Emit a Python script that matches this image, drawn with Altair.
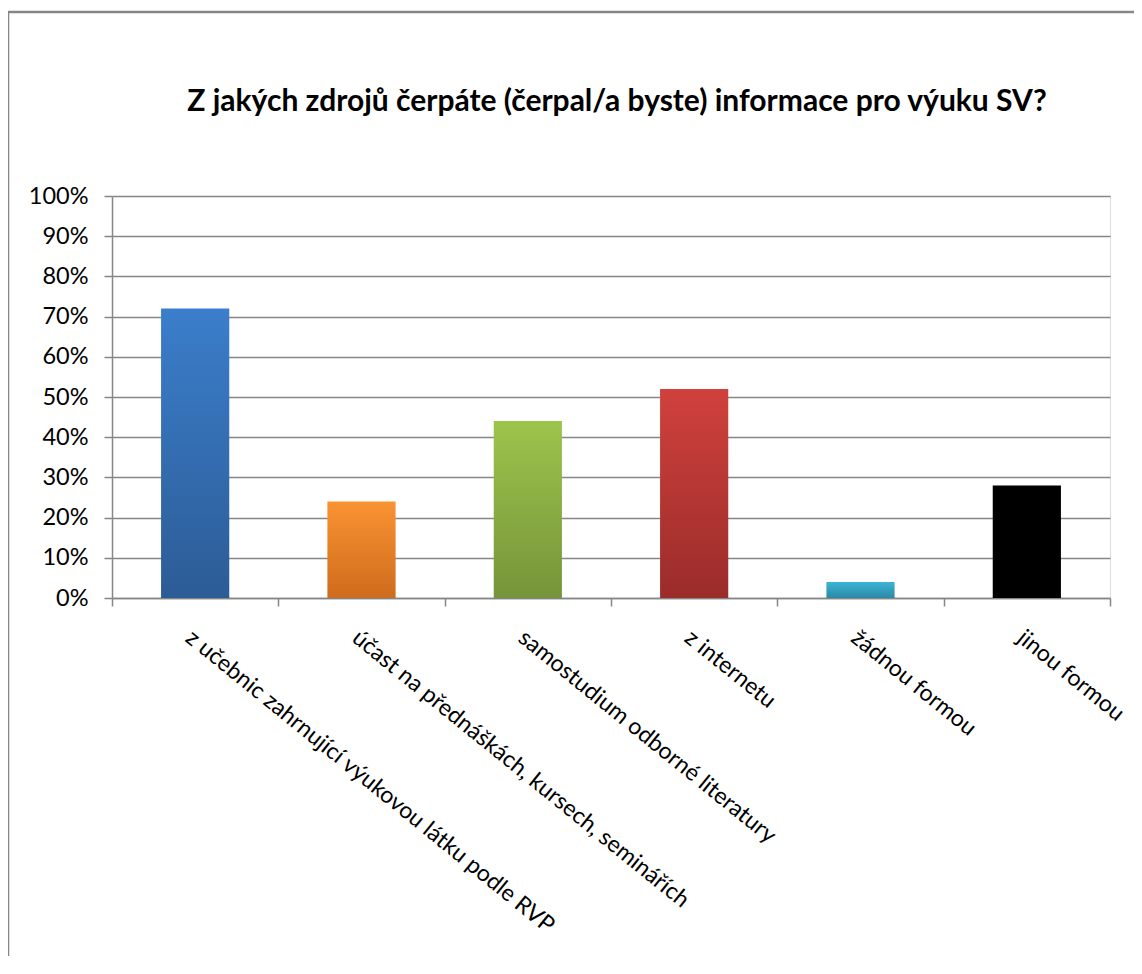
import altair as alt
import pandas as pd

categories = [
    "z učebnic zahrnující výukovou látku podle RVP",
    "účast na přednáškách, kursech, seminářích",
    "samostudium odborné literatury",
    "z internetu",
    "žádnou formou",
    "jinou formou",
]
values = [0.72, 0.24, 0.44, 0.52, 0.04, 0.28]
top_colors = ["#3b7ecb", "#fa9332", "#9dc44b", "#d0413d", "#3cb4d6", "#000000"]
bottom_colors = ["#2c5c96", "#cf6b1d", "#76943a", "#9a2c2a", "#2c89a4", "#000000"]
y_ticks = [i / 10 for i in range(11)]

title_text = "Z jakých zdrojů čerpáte (čerpal/a byste) informace pro výuku SV?"

df = pd.DataFrame({"cat": categories, "val": values})

GRAY = "#868686"
FONT = "Lato"

x_enc = alt.X(
    "cat:N",
    sort=categories,
    title=None,
    scale=alt.Scale(domain=categories, paddingInner=0, paddingOuter=0),
    axis=alt.Axis(
        labelAngle=39,
        labelAlign="left",
        labelBaseline="top",
        labelFont=FONT,
        labelFontSize=23,
        labelColor="#000000",
        labelLimit=2000,
        labelPadding=20,
        tickBand="extent",
        tickSize=8,
        tickColor=GRAY,
        tickWidth=1.5,
        domainColor=GRAY,
        domainWidth=1.5,
        grid=False,
    ),
)
y_enc = alt.Y(
    "val:Q",
    title=None,
    scale=alt.Scale(domain=[0, 1], nice=False),
    axis=alt.Axis(
        values=y_ticks,
        format=".0%",
        labelFont=FONT,
        labelFontSize=23.5,
        labelColor="#000000",
        labelPadding=16,
        tickSize=8,
        tickColor=GRAY,
        tickWidth=1.5,
        domainColor=GRAY,
        domainWidth=1.5,
        grid=True,
        gridColor=GRAY,
        gridWidth=1.5,
    ),
)

base = alt.Chart(df)
layers = []
for c, t, b in zip(categories, top_colors, bottom_colors):
    grad = alt.LinearGradient(
        gradient="linear",
        stops=[alt.GradientStop(color=t, offset=0), alt.GradientStop(color=b, offset=1)],
        x1=0, x2=0, y1=0, y2=1,
    )
    layers.append(
        base.transform_filter(alt.datum.cat == c)
        .mark_bar(color=grad, width=alt.RelativeBandSize(0.41))
        .encode(x=x_enc, y=y_enc)
    )

one = alt.Data(values=[{"k": 1}])
frame_left = alt.Chart(one).mark_rule(color=GRAY, strokeWidth=2.5, clip=False).encode(
    x=alt.value(-104), y=alt.value(-184), y2=alt.value(780)
)
frame_top = alt.Chart(one).mark_rule(color=GRAY, strokeWidth=2.5, clip=False).encode(
    x=alt.value(-104), x2=alt.value(1040), y=alt.value(-184)
)
title = alt.Chart(one).mark_text(
    text=title_text,
    font=FONT,
    fontSize=30,
    fontWeight="bold",
    color="#000000",
    align="center",
    baseline="alphabetic",
    clip=False,
).encode(x=alt.value(505), y=alt.value(-85))

chart = (
    alt.layer(frame_left, frame_top, title, *layers)
    .properties(
        width=998,
        height=402,
        autosize=alt.AutoSizeParams(type="none"),
        padding={"left": 104, "top": 188, "right": 24, "bottom": 358},
    )
    .configure_view(stroke=None)
    .configure(background="white")
)

chart.save("out.html", embed_options={"renderer": "svg", "actions": False})
